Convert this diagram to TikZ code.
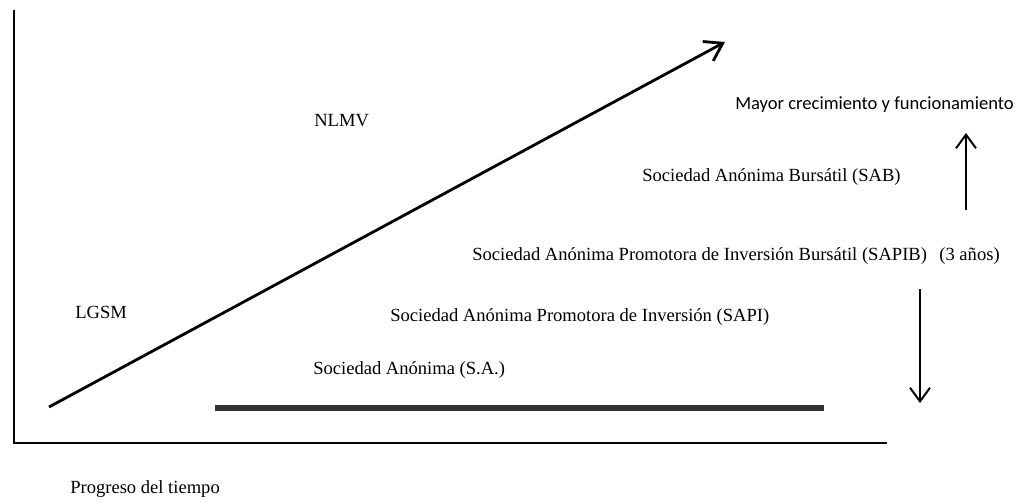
\documentclass[tikz,border=0pt]{standalone}
\usepackage{fontspec}
\setmainfont{Liberation Serif}
\newfontfamily\calibri{Carlito}
\usetikzlibrary{arrows.meta}

\tikzset{
  lbl/.style={anchor=west,inner sep=0pt,font=\fontsize{13.2}{16}\selectfont},
  lblsans/.style={lbl,font=\calibri\fontsize{13.2}{16}\selectfont},
  axis/.style={line width=1pt},
  uparrow/.style={line width=1.4pt,-{Straight Barb[length=3.4mm,width=5mm,line width=1.4pt]}},
}

\begin{document}
\begin{tikzpicture}[x=0.025cm,y=-0.025cm]
  \useasboundingbox (0,0) rectangle (1026,502);

  % axes
  \coordinate (top) at (14,10);
  \coordinate (orig) at (14,443);
  \coordinate (right) at (887,443);
  \draw [axis] (top) -- (orig) -- (right);

  % labels
  \node (nlmv) at (314,121) [lbl] {NLMV};
  \node (mayor) at (735,105) [lblsans] {Mayor crecimiento y funcionamiento};
  \node (sab) at (642,177) [lbl] {Sociedad Anónima Bursátil (SAB)};
  \node (sapib) at (472,256) [lbl] {Sociedad Anónima Promotora de Inversión Bursátil (SAPIB)\ \ \,(3 años)};
  \node (lgsm) at (75,312) [lbl] {LGSM};
  \node (sapi) at (390,317) [lbl] {Sociedad Anónima Promotora de Inversión (SAPI)};
  \node (sa) at (313,370) [lbl] {Sociedad Anónima (S.A.)};
  \node (tiempo) at (70,489) [lbl] {Progreso del tiempo};

  % growth arrow
  \coordinate (g1) at (49,407);
  \coordinate (g2) at (725,42);
  \draw [line width=2pt,-{Straight Barb[length=4.2mm,width=5.5mm,line width=2pt]}] (g1) -- (g2);

  % bar
  \coordinate (b1) at (215,408);
  \coordinate (b2) at (824,408);
  \draw [line width=3.6pt,black!80] (b1) -- (b2);

  % up and down arrows
  \coordinate (u1) at (966,210);
  \coordinate (u2) at (966,133);
  \draw [uparrow] (u1) -- (u2);
  \coordinate (d1) at (920,289);
  \coordinate (d2) at (920,403);
  \draw [uparrow] (d1) -- (d2);
\end{tikzpicture}
\end{document}
